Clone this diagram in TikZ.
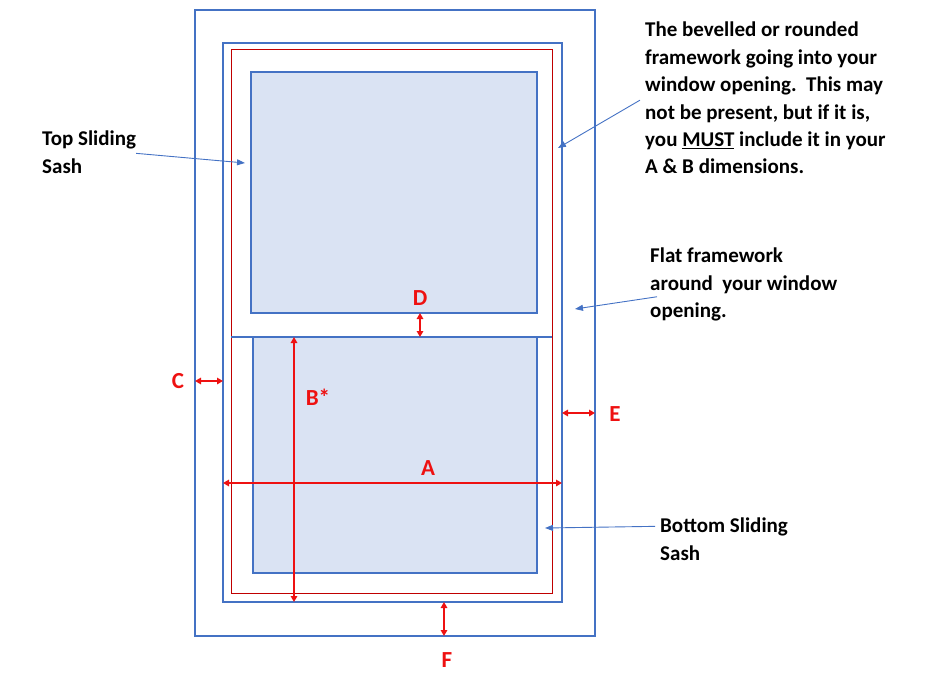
\documentclass[tikz,border=0pt]{standalone}
\usepackage{fontspec}
\setmainfont{Carlito}
\usepackage{xcolor}
\usetikzlibrary{arrows.meta}

\definecolor{frameblue}{HTML}{4472C4}
\definecolor{sashfill}{HTML}{DAE3F3}
\definecolor{linered}{HTML}{C00000}
\definecolor{dimred}{HTML}{EE1111}

\begin{document}
\begin{tikzpicture}[
    x = 1pt, y = -1pt,
    box/.style = {draw=frameblue, line width=2pt, rectangle, inner sep=0pt, outer sep=0pt},
    sash/.style = {box, fill=sashfill},
    redbox/.style = {draw=linered, line width=0.9pt, rectangle, inner sep=0pt, outer sep=0pt},
    dim/.style = {draw=dimred, line width=2pt,
        {Triangle[length=6pt,width=6.5pt]}-{Triangle[length=6pt,width=6.5pt]}},
    dimlabel/.style = {text=dimred, font=\bfseries\fontsize{23}{27}\selectfont, inner sep=0pt},
    note/.style = {draw=frameblue, line width=0.9pt, -{Triangle[length=8pt,width=6pt]}},
    notetext/.style = {font=\bfseries\fontsize{21}{27.4}\selectfont, align=left,
        inner sep=0pt, anchor=north west}
  ]
    \useasboundingbox (0,0) rectangle (939,677);

    % frames and sashes
    \node[box, minimum width=400pt, minimum height=626pt] (outer) at (395,323) {};
    \node[box, minimum width=339pt, minimum height=559pt] (inner) at (392.5,322.5) {};
    \node[redbox, minimum width=321pt, minimum height=544pt] (bevel) at (391.5,321) {};
    \node[sash, minimum width=286pt, minimum height=241pt] (topsash) at (394,192.5) {};
    \node[sash, minimum width=284pt, minimum height=236pt] (botsash) at (395,455) {};
    \draw[draw=frameblue, line width=2pt] (bevel.west |- botsash.north) -- (bevel.east |- botsash.north);

    % dimensions
    \draw[dim] (outer.west |- 0,381) -- (inner.west |- 0,381);
    \draw[dim] (topsash.south -| 420,0) -- (botsash.north -| 420,0);
    \draw[dim] (botsash.north -| 294,0) -- (inner.south -| 294,0);
    \draw[dim] (inner.east |- 0,413) -- (outer.east |- 0,413);
    \draw[dim] (inner.west |- 0,483) -- (inner.east |- 0,483);
    \draw[dim] (inner.south -| 444,0) -- (outer.south -| 444,0);

    \node[dimlabel] (labA) at (428,468) {A};
    \node[dimlabel] (labB) at (318,397) {B*};
    \node[dimlabel] (labC) at (178,381) {C};
    \node[dimlabel] (labD) at (420,298) {D};
    \node[dimlabel] (labE) at (615,414) {E};
    \node[dimlabel] (labF) at (447,660) {F};

    % notes
    \node[notetext] (topnote) at (42,131) {Top Sliding\\Sash};
    \node[notetext] (bevelnote) at (645,22) {The bevelled or rounded\\framework going into your\\window opening.\ \ This may\\not be present, but if it is,\\you \underline{MUST} include it in your\\A \& B dimensions.};
    \node[notetext] (flatnote) at (650,248) {Flat framework\\around\ \ your window\\opening.};
    \node[notetext] (botnote) at (660,518) {Bottom Sliding\\Sash};

    \coordinate (toptip) at (245,163);
    \coordinate (beveltip) at (558,148);
    \coordinate (flattip) at (575,309);
    \coordinate (bottip) at (545,528);

    \draw[note] ([yshift=-1pt]topnote.east) -- (toptip);
    \draw[note] ([xshift=-5pt,yshift=-2pt]bevelnote.west) -- (beveltip);
    \draw[note] ([xshift=7pt,yshift=-12pt]flatnote.west) -- (flattip);
    \draw[note] ([xshift=-5pt,yshift=13pt]botnote.west) -- (bottip);
\end{tikzpicture}
\end{document}
